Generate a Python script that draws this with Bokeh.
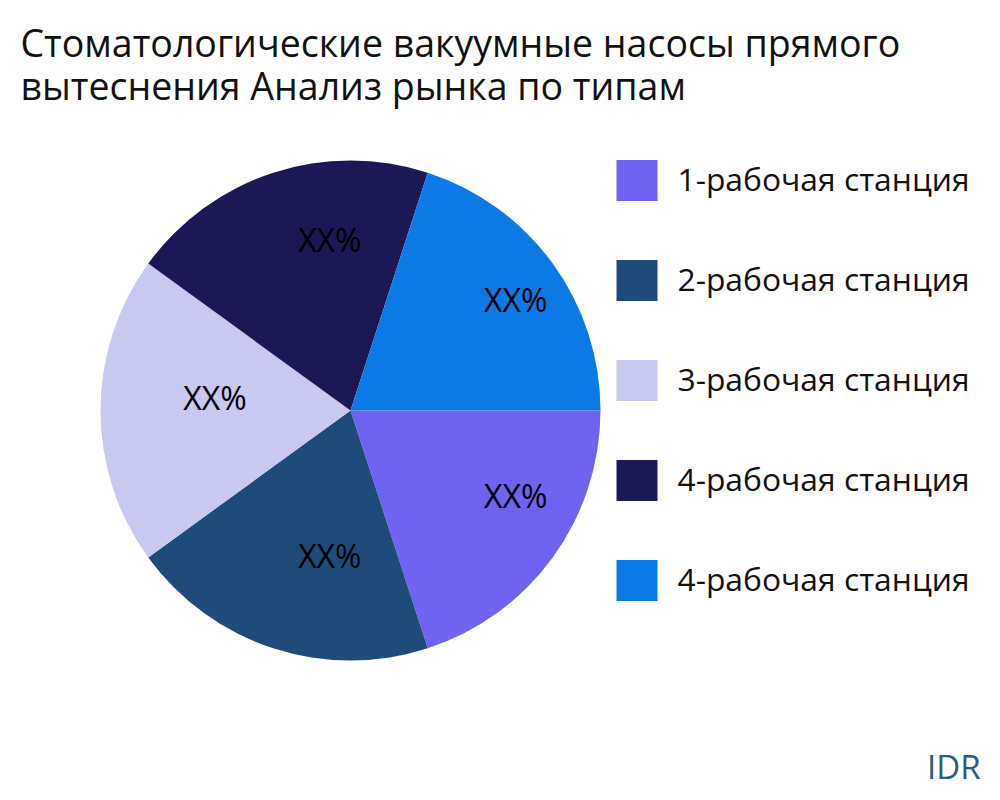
import math
from bokeh.plotting import figure
from bokeh.models import Range1d, ColumnDataSource
from bokeh.core.properties import value
from bokeh.embed import file_html
from bokeh.resources import INLINE

# ---- data ----
categories = ["1-рабочая станция", "2-рабочая станция", "3-рабочая станция",
              "4-рабочая станция", "4-рабочая станция"]
shares = [20, 20, 20, 20, 20]
slice_labels = ["XX%", "XX%", "XX%", "XX%", "XX%"]
colors = ["#7163F2", "#1F4B7A", "#C8C8F0", "#1C1855", "#0B7AE6"]
title_lines = ["Стоматологические вакуумные насосы прямого",
               "вытеснения Анализ рынка по типам"]
brand = "IDR"

W, H = 984, 784
FONT = "Open Sans"
BL = 0.4  # baseline correction (fraction of font size)

p = figure(width=W, height=H, output_backend="svg", toolbar_location=None,
           x_range=Range1d(0, W), y_range=Range1d(0, H), min_border=0)
p.axis.visible = False
p.grid.visible = False
p.outline_line_color = None
p.background_fill_color = "white"

# ---- pie ----
cx, cy, R = 350, H - 410, 250
lab_fs = 32
total = float(sum(shares))
starts, ends, lx, ly = [], [], [], []
acc = 0.0
for v in shares:
    a0 = -2 * math.pi * acc / total
    a1 = -2 * math.pi * (acc + v) / total
    starts.append(a1)
    ends.append(a0)
    mid = (a0 + a1) / 2
    lx.append(cx + 0.665 * R * math.cos(mid) - 1)
    ly.append(cy + 0.665 * R * math.sin(mid) + BL * lab_fs)
    acc += v

src = ColumnDataSource(dict(start=starts, end=ends, color=colors,
                            lx=lx, ly=ly, lab=slice_labels))
p.wedge(x=cx, y=cy, radius=R, start_angle="start", end_angle="end",
        fill_color="color", line_color=None, source=src)
p.text(x="lx", y="ly", text="lab", source=src, text_align="left",
       text_baseline="alphabetic", text_font=value(FONT),
       text_font_size=f"{lab_fs}px", text_color="black")

# ---- legend ----
leg_fs = 31.8
n = len(categories)
sq_x = [636.5] * n
sq_y = [H - 180 - 100 * i for i in range(n)]
tx = [677] * n
ty = [y - 11 + BL * leg_fs for y in sq_y]
p.rect(x=sq_x, y=sq_y, width=41, height=41, fill_color=colors, line_color=None)
p.text(x=tx, y=ty, text=categories, text_align="left", text_baseline="alphabetic",
       text_font=value(FONT), text_font_size=f"{leg_fs}px", text_color="#111111")

# ---- title ----
t_fs = 37.5
p.text(x=[20, 20], y=[H - 57 + BL * t_fs, H - 100 + BL * t_fs], text=title_lines,
       text_align="left", text_baseline="alphabetic", text_font=value(FONT),
       text_font_size=f"{t_fs}px", text_color="#111111")

# ---- brand ----
b_fs = 33
p.text(x=[980], y=[H - 779 + BL * b_fs], text=[brand], text_align="right",
       text_baseline="alphabetic", text_font=value(FONT),
       text_font_size=f"{b_fs}px", text_color="#2B5A8A")

open("out.html", "w").write(file_html(p, INLINE))
